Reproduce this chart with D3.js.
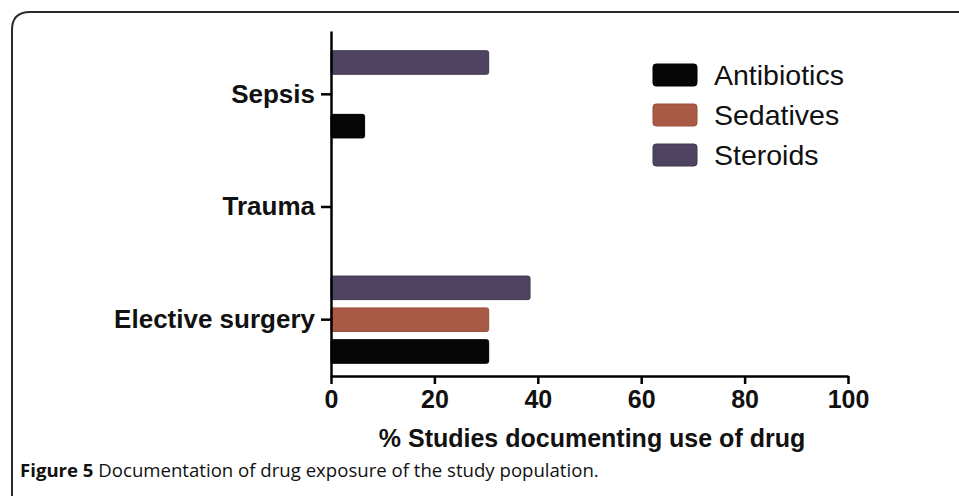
<!DOCTYPE html>
<html>
<head>
<meta charset="utf-8">
<script src="https://cdn.jsdelivr.net/npm/d3@7"></script>
<style>
  html, body { margin: 0; padding: 0; background: #fff; }
  svg { display: block; }
</style>
</head>
<body>
<svg id="chart" width="959" height="496"></svg>
<script>
// ---- data ----
const categories = ["Sepsis", "Trauma", "Elective surgery"];
const seriesNames = ["Antibiotics", "Sedatives", "Steroids"];
const antibiotics = [6.5, 0, 30.5];
const sedatives = [0, 0, 30.5];
const steroids = [30.5, 0, 38.5];
const xTicks = [0, 20, 40, 60, 80, 100];
const xTitle = "% Studies documenting use of drug";
const captionBold = "Figure 5";
const captionText = " Documentation of drug exposure of the study population.";
const colors = ["#060606", "#a85a45", "#4e4461"];
const strokes = ["#000000", "#9a4f3b", "#40374f"];

const values = [antibiotics, sedatives, steroids];

const svg = d3.select("#chart");
const font = "'Liberation Sans', Arial, sans-serif";

// frame
svg.append("path")
  .attr("d", "M12,496 L12,30 Q12,12 30,12 L962,12")
  .attr("fill", "none").attr("stroke", "#2a2a2a").attr("stroke-width", 2);

const x = d3.scaleLinear().domain([0, 100]).range([331, 848]);
const y = d3.scaleBand().domain(categories).range([31, 376])
  .paddingInner(0).paddingOuter(0.031).align(1);
// within-group: Steroids on top, Antibiotics at bottom
const sub = d3.scaleBand().domain(["Steroids", "Sedatives", "Antibiotics"])
  .range([0, y.bandwidth()]).paddingInner(0.26).paddingOuter(0.4);

// bars
seriesNames.forEach((name, si) => {
  const g = svg.append("g");
  g.selectAll("rect").data(categories.map((c, i) => ({c, v: values[si][i]})))
    .enter().filter(d => d.v > 0).append("rect")
    .attr("x", x(0))
    .attr("y", d => y(d.c) + sub(name))
    .attr("width", d => x(d.v) - x(0))
    .attr("height", sub.bandwidth())
    .attr("rx", 2)
    .attr("fill", colors[si])
    .attr("stroke", strokes[si]).attr("stroke-width", 1);
});

// x axis
const xAxis = svg.append("g").attr("transform", "translate(0,376)")
  .call(d3.axisBottom(x).tickValues(xTicks).tickSize(8).tickSizeOuter(0).tickPadding(6));
xAxis.select(".domain").attr("stroke", "#000").attr("stroke-width", 2.5);
xAxis.selectAll(".tick line").attr("stroke", "#000").attr("stroke-width", 2.5);
xAxis.selectAll(".tick text").attr("fill", "#111")
  .style("font-family", font).style("font-size", "25px").style("font-weight", "bold");

// y axis
const yAxis = svg.append("g").attr("transform", "translate(331,0)")
  .call(d3.axisLeft(y).tickSize(10).tickSizeOuter(0).tickPadding(6));
yAxis.select(".domain").attr("stroke", "#000").attr("stroke-width", 2.5);
yAxis.selectAll(".tick line").attr("stroke", "#000").attr("stroke-width", 2.5);
yAxis.selectAll(".tick text").attr("fill", "#111")
  .style("font-family", font).style("font-size", "26px").style("font-weight", "bold");

// x title
svg.append("text").attr("x", 592).attr("y", 447).attr("text-anchor", "middle")
  .style("font-family", font).style("font-size", "25px").style("font-weight", "bold")
  .attr("fill", "#111").text(xTitle);

// legend
const legend = svg.append("g");
seriesNames.forEach((name, i) => {
  const ly = 64 + i * 40;
  legend.append("rect").attr("x", 653).attr("y", ly).attr("width", 44).attr("height", 22)
    .attr("rx", 3).attr("fill", colors[i]).attr("stroke", strokes[i]);
  legend.append("text").attr("x", 714).attr("y", ly + 11).attr("dy", "0.36em")
    .style("font-family", font).style("font-size", "28.5px").attr("fill", "#111").text(name);
});

// caption
const cap = svg.append("text").attr("x", 20).attr("y", 477)
  .style("font-family", "'Open Sans', sans-serif").style("font-size", "18.6px").attr("fill", "#111");
cap.append("tspan").style("font-weight", "bold").text(captionBold);
cap.append("tspan").text(captionText);
</script>
</body>
</html>
